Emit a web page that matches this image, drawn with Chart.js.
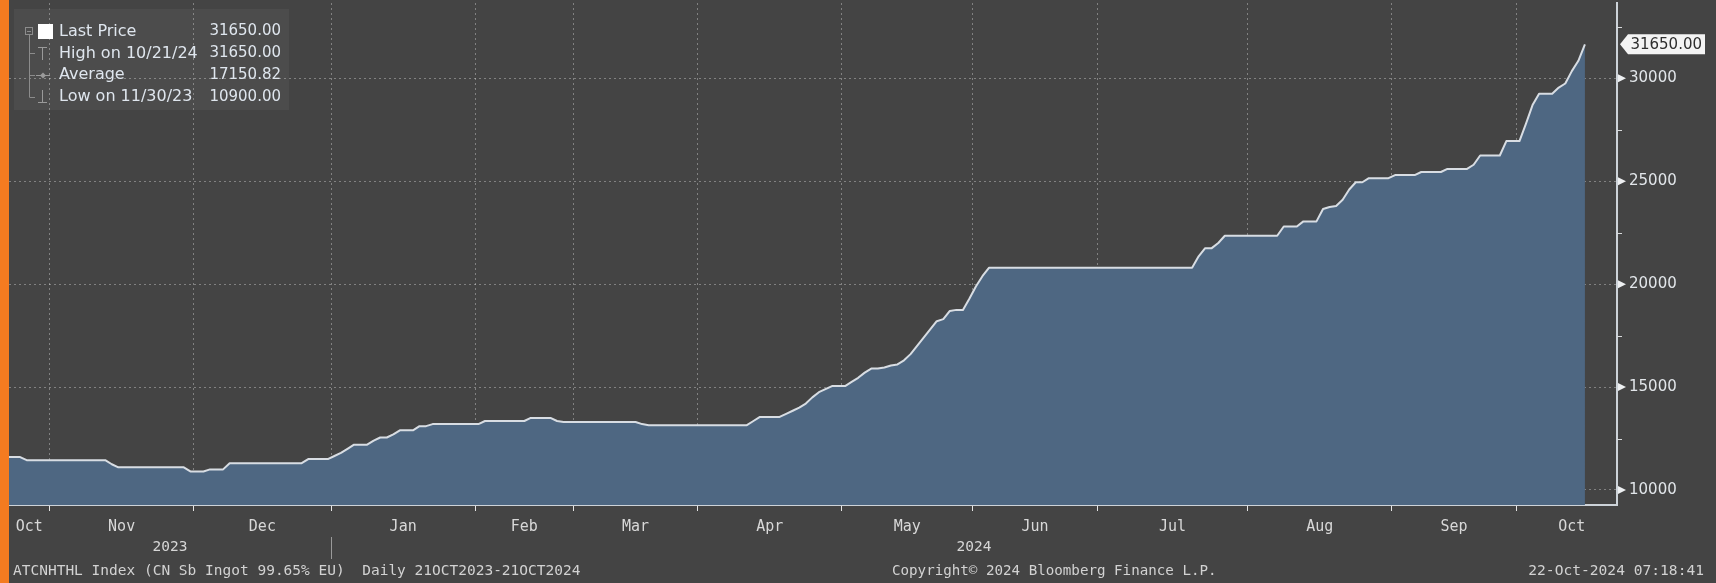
<!DOCTYPE html>
<html>
<head>
<meta charset="utf-8">
<style>
html,body{margin:0;padding:0;background:#444444;overflow:hidden;}
canvas{display:block;}
</style>
<script src="https://cdn.jsdelivr.net/npm/chart.js@4.4.1/dist/chart.umd.min.js"></script>
</head>
<body>
<canvas id="c" width="1716" height="583" style="width:1716px;height:583px"></canvas>
<script>
// ---- data (CN Sb Ingot 99.65%, daily) ----
const monthLabels = ['Oct','Nov','Dec','Jan','Feb','Mar','Apr','May','Jun','Jul','Aug','Sep','Oct'];
const yearLabels = ['2023','2024'];
const firstMonthOf2024 = 3;

const pOct23 = [11600,11600,11600,11450,11450,11450,11450];
const pNov23 = [11450,11450,11450,11450,11450,11450,11450,11450,11450,11250,11100,11100,11100,11100,11100,11100,11100,11100,11100,11100,11100,10900];
const pDec23 = [10900,10900,11000,11000,11000,11300,11300,11300,11300,11300,11300,11300,11300,11300,11300,11300,11300,11500,11500,11500,11500];
const pJan24 = [11650,11800,12000,12200,12200,12200,12400,12550,12550,12700,12900,12900,12900,13100,13100,13200,13200,13200,13200,13200,13200,13200];
const pFeb24 = [13200,13350,13350,13350,13350,13350,13350,13350,13500,13500,13500,13500,13350,13300,13300];
const pMar24 = [13300,13300,13300,13300,13300,13300,13300,13300,13300,13300,13200,13150,13150,13150,13150,13150,13150,13150,13150];
const pApr24 = [13150,13150,13150,13150,13150,13150,13150,13150,13350,13550,13550,13550,13550,13700,13850,14000,14200,14500,14750,14900,15050,15050];
const pMay24 = [15050,15250,15450,15700,15900,15900,15950,16050,16100,16300,16600,17000,17400,17800,18200,18300,18700,18750,18750,19300];
const pJun24 = [19900,20400,20800,20800,20800,20800,20800,20800,20800,20800,20800,20800,20800,20800,20800,20800,20800,20800,20800];
const pJul24 = [20800,20800,20800,20800,20800,20800,20800,20800,20800,20800,20800,20800,20800,20800,20800,21350,21750,21750,22000,22350,22350,22350,22350];
const pAug24 = [22350,22350,22350,22350,22350,22800,22800,22800,23050,23050,23050,23650,23750,23800,24100,24600,24950,24950,25150,25150,25150,25150];
const pSep24 = [25300,25300,25300,25300,25450,25450,25450,25450,25600,25600,25600,25600,25800,26250,26250,26250,26250,26950,26950];
const pOct24 = [26950,27800,28700,29250,29250,29250,29550,29750,30350,30850,31650];
const monthlyPrices = [pOct23,pNov23,pDec23,pJan24,pFeb24,pMar24,pApr24,pMay24,pJun24,pJul24,pAug24,pSep24,pOct24];

const yTicks = [10000,15000,20000,25000,30000];
const yMinorTicks = [12500,17500,22500,27500,32500];
const lastPrice = 31650;
const legendNames = ['Last Price','High on 10/21/24','Average','Low on 11/30/23'];
const legendValues = ['31650.00','31650.00','17150.82','10900.00'];
const footerLeft = 'ATCNHTHL Index (CN Sb Ingot 99.65% EU)  Daily 21OCT2023-21OCT2024';
const footerMid = 'Copyright\u00A9 2024 Bloomberg Finance L.P.';
const footerRight = '22-Oct-2024 07:18:41';

// ---- build series from the arrays ----
const points = [];
const monthStart = [];
let idx = 0;
monthlyPrices.forEach(arr => {
  monthStart.push(idx);
  arr.forEach(v => { points.push({x: idx, y: v}); idx++; });
});
const X_MIN = 0.3, X_MAX = 245.9;
const LAST_MONTH_SPAN_END = 247.5;
const boundaries = monthStart.slice(1).map(s => s - 0.5);
const centers = monthLabels.map((m, i) => {
  const a = i === 0 ? X_MIN : monthStart[i] - 0.5;
  const b = i === monthLabels.length - 1 ? LAST_MONTH_SPAN_END : monthStart[i + 1] - 0.5;
  return (a + b) / 2;
});

const GRID = 'rgba(255,255,255,0.33)';
const SANS = '"DejaVu Sans", Verdana, sans-serif';
const MONO = '"DejaVu Sans Mono", "Liberation Mono", monospace';

const deco = {
  id: 'deco',
  beforeDraw(chart) {
    const c = chart.ctx;
    c.save();
    c.fillStyle = '#444444';
    c.fillRect(0, 0, chart.width, chart.height);
    c.restore();
  },
  afterDraw(chart) {
    const c = chart.ctx, xs = chart.scales.x, ys = chart.scales.y, A = chart.chartArea;
    c.save();
    // orange edge
    c.fillStyle = '#f47b20';
    c.fillRect(0, 0, 9, chart.height);

    // y axis markers
    c.fillStyle = '#eef0f2';
    yTicks.forEach(v => {
      const y = ys.getPixelForValue(v);
      c.beginPath();
      c.moveTo(A.right + 1, y - 4);
      c.lineTo(A.right + 9, y);
      c.lineTo(A.right + 1, y + 4);
      c.closePath();
      c.fill();
    });
    c.strokeStyle = '#d8dadc';
    c.lineWidth = 1;
    yMinorTicks.forEach(v => {
      const y = Math.round(ys.getPixelForValue(v)) + 0.5;
      c.beginPath(); c.moveTo(A.right, y); c.lineTo(A.right + 5, y); c.stroke();
    });

    // last price badge
    const by = ys.getPixelForValue(lastPrice);
    c.fillStyle = '#f4f4f4';
    c.beginPath();
    c.moveTo(A.right + 3, by);
    c.lineTo(A.right + 11, by - 10);
    c.lineTo(1705, by - 10);
    c.lineTo(1705, by + 10);
    c.lineTo(A.right + 11, by + 10);
    c.closePath();
    c.fill();
    c.fillStyle = '#2e2e2e';
    c.font = '15px ' + SANS;
    c.textBaseline = 'middle';
    c.textAlign = 'right';
    c.fillText(legendValues[0], 1702, by + 1);

    // year labels + separator
    const sep = xs.getPixelForValue(monthStart[firstMonthOf2024] - 0.5);
    c.fillStyle = '#d6d6d6';
    c.font = '14.5px ' + MONO;
    c.textAlign = 'center';
    c.fillText(yearLabels[0], (A.left + sep) / 2, 547);
    c.fillText(yearLabels[1], (sep + A.right) / 2, 547);
    c.strokeStyle = '#9a9a9a';
    c.beginPath(); c.moveTo(Math.round(sep) + 0.5, 537); c.lineTo(Math.round(sep) + 0.5, 559); c.stroke();

    // footer
    c.fillStyle = '#d2d2d2';
    c.textAlign = 'left';
    c.font = '14.5px ' + MONO;
    c.fillText(footerLeft, 13, 571);
    c.font = '14.2px ' + MONO;
    c.fillText(footerMid, 892, 571);
    c.textAlign = 'right';
    c.font = '14.6px ' + MONO;
    c.fillText(footerRight, 1704, 571);

    // legend box
    c.fillStyle = 'rgba(255,255,255,0.045)';
    c.fillRect(14, 9, 275, 101);
    const rows = [31.5, 53.4, 75.3, 97.2];
    c.strokeStyle = '#8c8c8c';
    c.lineWidth = 1;
    // collapse box
    c.strokeRect(25.5, 27.5, 7, 7);
    c.beginPath(); c.moveTo(27, 31.5); c.lineTo(31, 31.5); c.stroke();
    // tree
    c.beginPath();
    c.moveTo(29.5, 35); c.lineTo(29.5, rows[3]);
    [rows[1], rows[2], rows[3]].forEach(y => { c.moveTo(29.5, Math.round(y) + 0.5); c.lineTo(35, Math.round(y) + 0.5); });
    c.stroke();
    // white square
    c.fillStyle = '#ffffff';
    c.fillRect(38, 24, 15, 15);
    // high icon
    c.strokeStyle = '#9a9a9a';
    c.beginPath();
    c.moveTo(38, 47.5); c.lineTo(47, 47.5);
    c.moveTo(42.5, 47.5); c.lineTo(42.5, 60);
    c.stroke();
    // average icon
    c.beginPath(); c.moveTo(36, 75.5); c.lineTo(50, 75.5); c.stroke();
    c.fillStyle = '#9a9a9a';
    c.beginPath(); c.moveTo(43, 72.5); c.lineTo(46, 75.5); c.lineTo(43, 78.5); c.lineTo(40, 75.5); c.closePath(); c.fill();
    // low icon
    c.beginPath();
    c.moveTo(42.5, 90); c.lineTo(42.5, 102.5);
    c.moveTo(38, 102.5); c.lineTo(47, 102.5);
    c.stroke();
    // legend text
    c.textBaseline = 'middle';
    c.fillStyle = '#dfe6ee';
    legendNames.forEach((t, i) => {
      c.font = '16px ' + SANS;
      c.textAlign = 'left';
      c.fillText(t, 59, rows[i]);
      c.font = '15px ' + SANS;
      c.textAlign = 'right';
      c.fillText(legendValues[i], 281, rows[i]);
    });
    c.restore();
  }
};

Chart.defaults.font.family = SANS;

new Chart(document.getElementById('c'), {
  type: 'line',
  data: {
    datasets: [{
      data: points,
      borderColor: '#d8dde3',
      borderWidth: 2,
      borderJoinStyle: 'round',
      backgroundColor: '#4e6782',
      fill: 'start',
      pointRadius: 0,
      tension: 0
    }]
  },
  options: {
    responsive: false,
    devicePixelRatio: 1,
    animation: false,
    parsing: false,
    layout: { padding: { left: 9, top: 3, right: 0, bottom: 0 } },
    plugins: { legend: { display: false }, tooltip: { enabled: false } },
    scales: {
      x: {
        type: 'linear',
        position: 'bottom',
        min: X_MIN,
        max: X_MAX,
        z: 1,
        afterBuildTicks: s => {
          const t = boundaries.map(v => ({ value: v, kind: 'b', name: '' }))
            .concat(centers.map((v, i) => ({ value: v, kind: 'c', name: monthLabels[i] })));
          t.sort((a, b) => a.value - b.value);
          s.ticks = t;
        },
        afterFit: s => { s.height = 78; s.paddingLeft = 0; s.paddingRight = 0; s.paddingTop = 0; s.paddingBottom = 0; },
        ticks: {
          autoSkip: false,
          maxRotation: 0,
          padding: 7,
          color: '#d8d8d8',
          font: { family: MONO, size: 15 },
          callback: (v, i, t) => t[i].name
        },
        grid: {
          color: ctx => (ctx.tick && ctx.tick.kind === 'b') ? GRID : 'rgba(0,0,0,0)',
          tickColor: ctx => (ctx.tick && ctx.tick.kind === 'b') ? '#e6e6e6' : 'rgba(0,0,0,0)',
          tickLength: 6,
          tickWidth: 1,
          tickBorderDash: [],
          lineWidth: 1
        },
        border: { display: true, color: '#cdd3d9', width: 2, dash: [2, 3] }
      },
      y: {
        type: 'linear',
        position: 'right',
        min: 9270,
        max: 33660,
        z: 1,
        afterBuildTicks: s => { s.ticks = yTicks.map(v => ({ value: v })); },
        afterFit: s => { s.width = 99; s.paddingTop = 0; s.paddingBottom = 0; s.paddingLeft = 0; s.paddingRight = 0; },
        ticks: {
          padding: 12,
          color: '#e2e6ea',
          font: { family: SANS, size: 15 },
          callback: v => String(v)
        },
        grid: { color: GRID, drawTicks: false, lineWidth: 1 },
        border: { display: true, color: '#cdd3d9', width: 2, dash: [2, 3] }
      }
    }
  },
  plugins: [deco]
});
</script>
</body>
</html>
